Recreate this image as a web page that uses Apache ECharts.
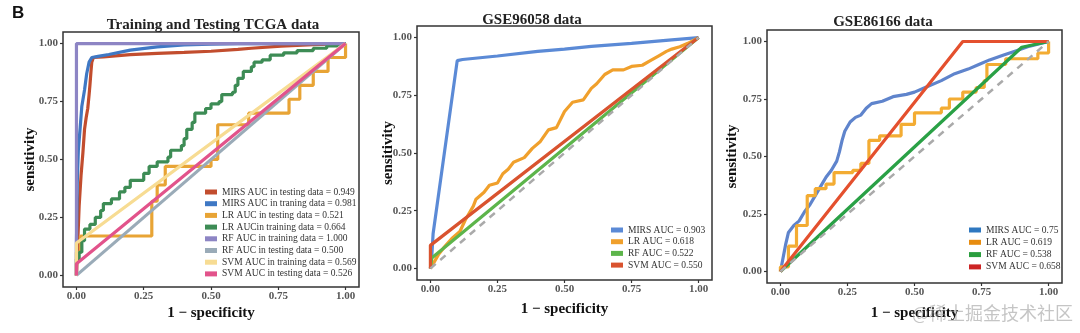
<!DOCTYPE html>
<html>
<head>
<meta charset="utf-8">
<script src="https://cdn.jsdelivr.net/npm/echarts@6/dist/echarts.min.js"></script>
<style>
  html, body { margin: 0; padding: 0; background: #fff; }
  #chart { width: 1080px; height: 333px; }
</style>
</head>
<body>
<div id="chart"></div>
<script>
// ---- tick labels ----
const tickValues = [0, 0.25, 0.5, 0.75, 1];

// ---- panel titles ----
const panelTitles = ['Training and Testing TCGA data', 'GSE96058 data', 'GSE86166 data'];

// ---- TCGA panel: ROC curves [1 - specificity, sensitivity] ----
const tcgaNames = [
  'MIRS AUC in testing data = 0.949',
  'MIRS AUC in traning data = 0.981',
  'LR AUC in testing data = 0.521',
  'LR AUCin training data = 0.664',
  'RF AUC in training data = 1.000',
  'RF AUC in testing data = 0.500',
  'SVM AUC in training data = 0.569',
  'SVM AUC in testing data = 0.526'
];
const tcgaMirsTest = [[0,0],[0.005,0.15],[0.01,0.3],[0.017,0.43],[0.024,0.53],[0.03,0.63],[0.036,0.68],[0.042,0.72],[0.047,0.78],[0.05,0.82],[0.054,0.88],[0.057,0.92],[0.063,0.94],[0.1,0.943],[0.2,0.952],[0.3,0.958],[0.4,0.962],[0.5,0.967],[0.6,0.975],[0.65,0.98],[0.76,0.989],[0.88,0.995],[1,1]];
const tcgaMirsTrain = [[0,0],[0,0.14],[0.003,0.4],[0.007,0.54],[0.014,0.64],[0.02,0.73],[0.03,0.8],[0.038,0.87],[0.047,0.92],[0.057,0.94],[0.08,0.945],[0.12,0.953],[0.2,0.972],[0.3,0.986],[0.4,0.994],[0.5,0.998],[0.6,1],[1,1]];
// staircase curves: each point = where the curve rises to a new sensitivity
const tcgaLrTest = [[0,0],[0,0.1],[0.015,0.17],[0.28,0.32],[0.3,0.39],[0.33,0.47],[0.5,0.5],[0.525,0.65],[0.64,0.7],[0.79,0.76],[0.83,0.82],[0.88,0.88],[0.935,0.94],[1,1]];
const tcgaLrTrain = [[0,0],[0,0.07],[0.01,0.1],[0.02,0.15],[0.03,0.2],[0.05,0.22],[0.07,0.25],[0.09,0.28],[0.1,0.31],[0.13,0.33],[0.16,0.36],[0.18,0.38],[0.2,0.41],[0.25,0.44],[0.27,0.47],[0.3,0.49],[0.34,0.51],[0.35,0.54],[0.39,0.56],[0.4,0.59],[0.41,0.63],[0.43,0.66],[0.44,0.7],[0.48,0.72],[0.5,0.74],[0.53,0.75],[0.54,0.78],[0.58,0.79],[0.59,0.82],[0.6,0.85],[0.62,0.88],[0.65,0.9],[0.66,0.92],[0.69,0.93],[0.72,0.95],[0.77,0.96],[0.82,0.97],[0.88,0.98],[0.93,0.99],[0.97,1],[1,1]];
const tcgaRfTrain = [[0,0],[0,1],[1,1]];
const tcgaRfTest = [[0,0],[1,1]];
const tcgaSvmTrain = [[0,0],[0,0.14],[1,1]];
const tcgaSvmTest = [[0,0],[0,0.05],[1,1]];
const tcgaColors = ['#c24d2e', '#3f78c4', '#e8a435', '#3d8c55', '#8d85c4', '#9aabb8', '#f7dc93', '#e2538b'];

// ---- GSE96058 panel ----
const g96Names = ['MIRS AUC = 0.903', 'LR AUC = 0.618', 'RF AUC = 0.522', 'SVM AUC = 0.550'];
const g96Mirs = [[0,0],[0.005,0.05],[0.01,0.15],[0.1,0.9],[0.12,0.905],[0.25,0.92],[0.4,0.94],[0.5,0.95],[0.6,0.962],[0.75,0.975],[0.9,0.99],[1,1]];
const g96Lr = [[0,0],[0.01,0.02],[0.03,0.06],[0.05,0.09],[0.08,0.13],[0.11,0.16],[0.13,0.21],[0.16,0.27],[0.17,0.3],[0.2,0.33],[0.22,0.36],[0.25,0.37],[0.27,0.41],[0.29,0.43],[0.31,0.46],[0.35,0.48],[0.38,0.52],[0.41,0.55],[0.44,0.6],[0.47,0.61],[0.5,0.68],[0.53,0.72],[0.57,0.73],[0.6,0.78],[0.62,0.8],[0.65,0.84],[0.68,0.86],[0.72,0.86],[0.75,0.875],[0.79,0.88],[0.82,0.9],[0.85,0.92],[0.88,0.94],[0.9,0.95],[0.93,0.96],[0.96,0.975],[1,1]];
const g96Rf = [[0,0],[0.005,0.045],[1,1]];
const g96Svm = [[0,0],[0,0.1],[1,1]];
const g96Colors = ['#5b8ad6', '#f0a02c', '#5db54b', '#d9532f'];

// ---- GSE86166 panel ----
const g86Names = ['MIRS AUC = 0.75', 'LR AUC = 0.619', 'RF AUC = 0.538', 'SVM AUC = 0.658'];
const g86Mirs = [[0,0],[0.01,0.06],[0.02,0.12],[0.03,0.17],[0.05,0.2],[0.07,0.22],[0.09,0.26],[0.11,0.29],[0.13,0.33],[0.15,0.37],[0.17,0.41],[0.19,0.44],[0.21,0.48],[0.22,0.52],[0.23,0.57],[0.24,0.61],[0.26,0.65],[0.28,0.67],[0.3,0.68],[0.32,0.71],[0.34,0.73],[0.38,0.74],[0.42,0.76],[0.47,0.77],[0.5,0.78],[0.54,0.8],[0.6,0.83],[0.65,0.86],[0.7,0.88],[0.74,0.9],[0.78,0.92],[0.83,0.94],[0.88,0.96],[0.93,0.98],[1,1]];
const g86Lr = [[0,0],[0,0.02],[0.03,0.11],[0.06,0.2],[0.1,0.33],[0.13,0.36],[0.17,0.38],[0.2,0.43],[0.27,0.44],[0.3,0.47],[0.33,0.57],[0.37,0.59],[0.45,0.64],[0.5,0.69],[0.6,0.71],[0.63,0.75],[0.68,0.78],[0.73,0.8],[0.76,0.83],[0.77,0.9],[0.84,0.925],[0.96,0.95],[1,1]];
const g86Rf = [[0,0],[0.9,0.975],[1,1]];
const g86Svm = [[0,0],[0.68,1],[1,1]];
const g86Colors = ['#5f84cc', '#f3ac33', '#2aa146', '#e4502e'];
const g86KeyColors = ['#2f78c0', '#e78c10', '#2a9e3e', '#cc2424'];

const diagonal = [[0,0],[1,1]];

const SERIF = '"Liberation Serif", "DejaVu Serif", serif';

const grids = [
  { left: 63, top: 32, width: 296, height: 255 },
  { left: 417, top: 26, width: 295, height: 254 },
  { left: 767, top: 30, width: 295, height: 253 }
];
const yNameGaps = [25, 21, 27];
const xNameGaps = [19, 22, 23];

function axisCommon(i, isX) {
  return {
    gridIndex: i,
    type: 'value',
    min: -0.05,
    max: 1.05,
    name: isX ? '1 \u2212 specificity' : 'sensitivity',
    nameLocation: 'middle',
    nameGap: isX ? xNameGaps[i] : yNameGaps[i],
    nameMoveOverlap: false,
    nameTextStyle: { fontFamily: SERIF, fontWeight: 'bold', fontSize: 15, color: '#111' },
    axisLine: { show: false, onZero: false },
    splitLine: { show: false },
    axisTick: { show: true, customValues: tickValues, length: 3, lineStyle: { color: '#333', width: 1.2 } },
    axisLabel: {
      customValues: tickValues,
      formatter: v => v.toFixed(2),
      fontFamily: SERIF, fontWeight: 'bold', fontSize: 11, color: '#555',
      margin: isX ? 4 : 5
    }
  };
}

function line(name, data, color, grid, opts) {
  return Object.assign({
    type: 'line', name, data,
    xAxisIndex: grid, yAxisIndex: grid,
    showSymbol: false, symbol: 'none',
    color,
    lineStyle: { width: 3.2, color },
    emphasis: { disabled: true },
    animation: false
  }, opts || {});
}

const series = [
  line(tcgaNames[0], tcgaMirsTest, tcgaColors[0], 0),
  line(tcgaNames[1], tcgaMirsTrain, tcgaColors[1], 0),
  line(tcgaNames[2], tcgaLrTest, tcgaColors[2], 0, { step: 'end' }),
  line(tcgaNames[3], tcgaLrTrain, tcgaColors[3], 0, { step: 'end' }),
  line(tcgaNames[4], tcgaRfTrain, tcgaColors[4], 0),
  line(tcgaNames[5], tcgaRfTest, tcgaColors[5], 0),
  line(tcgaNames[6], tcgaSvmTrain, tcgaColors[6], 0),
  line(tcgaNames[7], tcgaSvmTest, tcgaColors[7], 0),

  line(g96Names[0], g96Mirs, g96Colors[0], 1),
  line(g96Names[1], g96Lr, g96Colors[1], 1),
  line(g96Names[2], g96Rf, g96Colors[2], 1),
  line(g96Names[3], g96Svm, g96Colors[3], 1),
  line('ref96', diagonal, '#aaaaaa', 1, { lineStyle: { width: 2.5, color: '#aaaaaa', type: [7, 6] } }),

  line(g86Names[0], g86Mirs, g86Colors[0], 2),
  line(g86Names[1], g86Lr, g86Colors[1], 2, { step: 'end' }),
  line(g86Names[2], g86Rf, g86Colors[2], 2),
  line(g86Names[3], g86Svm, g86Colors[3], 2),
  line('ref86', diagonal, '#aaaaaa', 2, { lineStyle: { width: 2.5, color: '#aaaaaa', type: [7, 6] } })
];

function legend(names, left, top, gap, keyColors) {
  return {
    orient: 'vertical', left, top, padding: 0,
    icon: 'rect', itemWidth: 12, itemHeight: 5, itemGap: gap,
    selectedMode: false,
    textStyle: { fontFamily: SERIF, fontSize: 9.5, lineHeight: 10, color: '#333' },
    data: names.map((n, k) => keyColors ? { name: n, itemStyle: { color: keyColors[k] } } : n)
  };
}

const titleCenters = [[213, 25], [532, 20], [883, 22]];

const chart = echarts.init(document.getElementById('chart'), null, { renderer: 'canvas' });
chart.setOption({
  animation: false,
  backgroundColor: '#fff',
  grid: grids.map(g => Object.assign({
    show: true, borderColor: '#333', borderWidth: 1.5, backgroundColor: 'transparent',
    outerBoundsMode: 'none'
  }, g)),
  xAxis: [0, 1, 2].map(i => axisCommon(i, true)),
  yAxis: [0, 1, 2].map(i => axisCommon(i, false)),
  legend: [
    legend(tcgaNames, 205, 187, 1.7),
    legend(g96Names, 611, 225, 1.7),
    legend(g86Names, 969, 225, 2.3, g86KeyColors)
  ],
  graphic: [
    { type: 'text', left: 12, top: 5, style: { text: 'B', font: 'bold 17px "Liberation Sans", Arial, sans-serif', fill: '#111' } },
    ...panelTitles.map((t, i) => ({
      type: 'text', x: titleCenters[i][0], y: titleCenters[i][1],
      style: { text: t, font: 'bold 15px ' + SERIF, fill: '#222', textAlign: 'center', textVerticalAlign: 'middle' }
    })),
    { type: 'text', x: 912, y: 313, z: 100,
      style: { text: '@稀土掘金技术社区', font: '18px "Noto Sans CJK SC", sans-serif', fill: 'rgba(150,150,150,0.55)', textVerticalAlign: 'middle' } }
  ],
  series
});
</script>
</body>
</html>
